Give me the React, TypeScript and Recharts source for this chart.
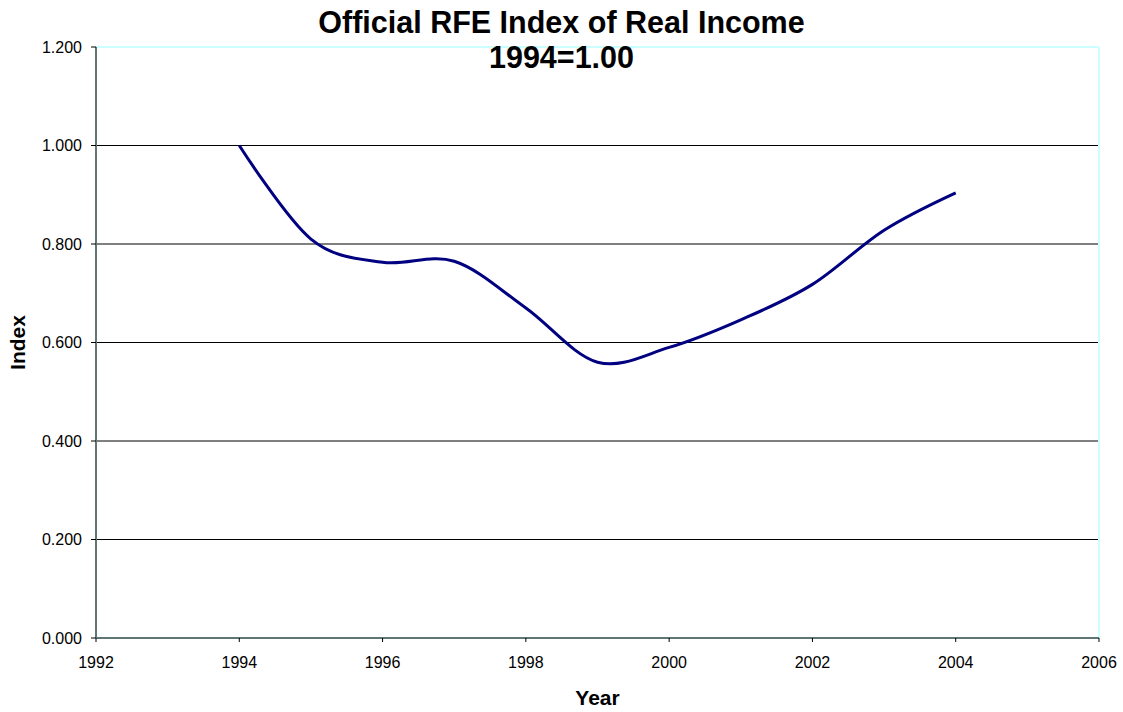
import { LineChart, Line, XAxis, YAxis, CartesianGrid, ReferenceLine } from 'recharts';

const years = [1994, 1995, 1996, 1997, 1998, 1999, 2000, 2001, 2002, 2003, 2004];
const indexValues = [1.0, 0.81, 0.763, 0.765, 0.67, 0.56, 0.59, 0.646, 0.718, 0.828, 0.904];
const xTicks = [1992, 1994, 1996, 1998, 2000, 2002, 2004, 2006];
const yTicks = [0, 0.2, 0.4, 0.6, 0.8, 1.0, 1.2];

const data = years.map((year, i) => ({ year, index: indexValues[i] }));

const FONT = '"Liberation Sans", Arial, sans-serif';

// Catmull-Rom style smoothing, close to Excel's "smoothed line"
function smoothCurve(context: any) {
  const k = 1 / 6;
  let x0 = NaN, x1 = NaN, x2 = NaN, y0 = NaN, y1 = NaN, y2 = NaN;
  let pt = 0;
  let line: number = NaN;
  const seg = (x: number, y: number) => {
    context.bezierCurveTo(
      x1 + k * (x2 - x0), y1 + k * (y2 - y0),
      x2 + k * (x1 - x), y2 + k * (y1 - y),
      x2, y2,
    );
  };
  return {
    areaStart() { line = 0; },
    areaEnd() { line = NaN; },
    lineStart() { x0 = x1 = x2 = y0 = y1 = y2 = NaN; pt = 0; },
    lineEnd() {
      if (pt === 2) context.lineTo(x2, y2);
      else if (pt === 3) seg(x1, y1);
      if (line || (line !== 0 && pt === 1)) context.closePath();
      line = 1 - line;
    },
    point(x: number, y: number) {
      x = +x; y = +y;
      if (pt === 0) {
        pt = 1;
        line ? context.lineTo(x, y) : context.moveTo(x, y);
      } else if (pt === 1) {
        pt = 2; x1 = x; y1 = y;
      } else {
        if (pt === 2) pt = 3;
        seg(x, y);
      }
      x0 = x1; x1 = x2; x2 = x;
      y0 = y1; y1 = y2; y2 = y;
    },
  };
}

const tickStyle = { fontSize: 16, fill: '#000', fontFamily: FONT };
const axisColor = '#5f7676';
const borderColor = '#ccffff';

export default function App() {
  return (
    <div style={{ position: 'relative', width: 1123, height: 712, background: '#fff', fontFamily: FONT }}>
      <style>{`body{margin:0;}`}</style>
      <LineChart
        width={1123}
        height={712}
        data={data}
        margin={{ top: 47, right: 24, bottom: 0, left: 0 }}
      >
        <CartesianGrid vertical={false} stroke="#000" strokeWidth={1} />
        <XAxis
          dataKey="year"
          type="number"
          domain={[1992, 2006]}
          ticks={xTicks}
          interval={0}
          height={74}
          tick={tickStyle}
          tickSize={4}
          tickMargin={15}
          stroke={axisColor}
          strokeWidth={2}
          tickLine={{ stroke: '#000', strokeWidth: 1 }}
          label={{
            value: 'Year',
            position: 'insideBottom',
            offset: 7,
            style: { fontSize: 21, fontWeight: 'bold', fill: '#000', fontFamily: FONT },
          }}
        />
        <YAxis
          type="number"
          domain={[0, 1.2]}
          ticks={yTicks}
          interval={0}
          width={96}
          tick={tickStyle}
          tickSize={5}
          tickMargin={9}
          tickFormatter={(v: number) => v.toFixed(3)}
          stroke={axisColor}
          strokeWidth={2}
          tickLine={{ stroke: '#000', strokeWidth: 1 }}
          label={{
            value: 'Index',
            angle: -90,
            position: 'insideLeft',
            offset: 18,
            style: { fontSize: 21, fontWeight: 'bold', fill: '#000', fontFamily: FONT, textAnchor: 'middle' },
          }}
        />
        <ReferenceLine y={1.2} stroke={borderColor} strokeWidth={2} />
        <ReferenceLine x={2006} stroke={borderColor} strokeWidth={2} />
        <Line
          dataKey="index"
          type={smoothCurve as any}
          stroke="#000080"
          strokeWidth={3}
          dot={false}
          activeDot={false}
          isAnimationActive={false}
        />
      </LineChart>
      <div
        style={{
          position: 'absolute',
          left: 0,
          top: 5,
          width: 1123,
          textAlign: 'center',
          fontWeight: 'bold',
          fontSize: 30.5,
          lineHeight: '35px',
          color: '#000',
          pointerEvents: 'none',
        }}
      >
        <div>Official RFE Index of Real Income</div>
        <div>1994=1.00</div>
      </div>
    </div>
  );
}
